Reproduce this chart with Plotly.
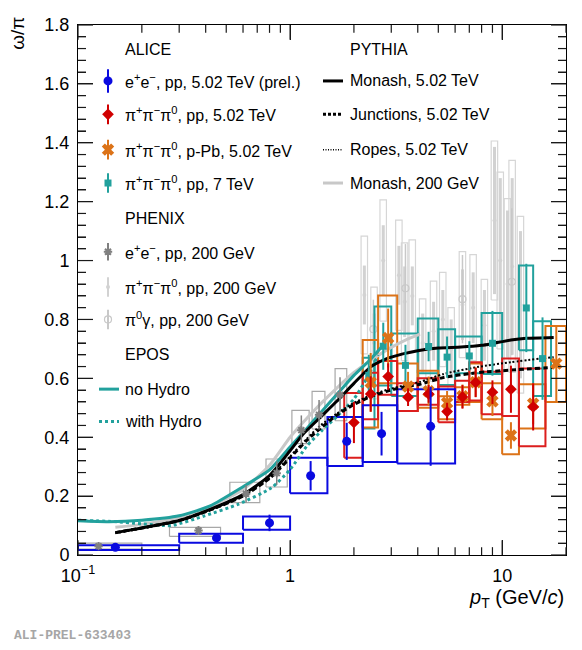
import math
import plotly.graph_objects as go

# ---------------- values ----------------
# ALICE e+e-, pp, 5.02 TeV (prel.)
ee_pt = [0.15, 0.45, 0.8, 1.25, 1.85, 2.7, 4.6]
ee_lo = [0.1, 0.3, 0.6, 1.0, 1.5, 2.2, 3.2]
ee_hi = [0.3, 0.6, 1.0, 1.5, 2.2, 3.2, 6.0]
ee_val = [0.026, 0.058, 0.109, 0.269, 0.386, 0.412, 0.437]
ee_stat = [0.005, 0.012, 0.028, 0.05, 0.063, 0.074, 0.134]
ee_sys_lo = [0.017, 0.042, 0.086, 0.21, 0.302, 0.316, 0.311]
ee_sys_hi = [0.033, 0.072, 0.131, 0.33, 0.469, 0.509, 0.563]

# ALICE pi+pi-pi0, pp, 5.02 TeV
pp5_pt = [2.0, 2.4, 2.9, 3.6, 4.5, 5.5, 6.5, 7.5, 9.0, 11.0, 14.0]
pp5_lo = [1.8, 2.2, 2.6, 3.2, 4.0, 5.0, 6.0, 7.0, 8.0, 10.0, 12.0]
pp5_hi = [2.2, 2.6, 3.2, 4.0, 5.0, 6.0, 7.0, 8.0, 10.0, 12.0, 16.0]
pp5_val = [0.45, 0.547, 0.606, 0.536, 0.547, 0.487, 0.537, 0.586, 0.553, 0.563, 0.503]
pp5_stat = [0.07, 0.06, 0.045, 0.03, 0.03, 0.03, 0.04, 0.05, 0.04, 0.08, 0.08]
pp5_sys_lo = [0.33, 0.461, 0.544, 0.489, 0.51, 0.451, 0.52, 0.525, 0.478, 0.472, 0.369]
pp5_sys_hi = [0.55, 0.619, 0.659, 0.583, 0.60, 0.572, 0.592, 0.655, 0.622, 0.667, 0.633]

# ALICE pi+pi-pi0, p-Pb, 5.02 TeV
ppb_pt = [2.4, 2.9, 3.6, 4.5, 5.5, 6.5, 7.5, 9.0, 11.0, 14.0, 18.0]
ppb_lo = [2.2, 2.6, 3.2, 4.0, 5.0, 6.0, 7.0, 8.0, 10.0, 12.0, 16.0]
ppb_hi = [2.6, 3.2, 4.0, 5.0, 6.0, 7.0, 8.0, 10.0, 12.0, 16.0, 20.0]
ppb_val = [0.586, 0.737, 0.572, 0.556, 0.517, 0.539, 0.587, 0.522, 0.406, 0.514, 0.65]
ppb_stat = [0.1, 0.1, 0.05, 0.05, 0.04, 0.04, 0.05, 0.05, 0.045, 0.07, 0.13]
ppb_sys_lo = [0.433, 0.583, 0.489, 0.50, 0.461, 0.51, 0.52, 0.461, 0.342, 0.43, 0.52]
ppb_sys_hi = [0.73, 0.881, 0.65, 0.626, 0.539, 0.57, 0.65, 0.583, 0.472, 0.58, 0.778]

# ALICE pi+pi-pi0, pp, 7 TeV
pp7_pt = [2.35, 2.75, 3.5, 4.5, 5.5, 7.0, 9.0, 13.0, 15.5]
pp7_lo = [2.2, 2.5, 3.0, 4.0, 5.0, 6.0, 8.0, 12.0, 14.0]
pp7_hi = [2.5, 3.0, 4.0, 5.0, 6.0, 8.0, 10.0, 14.0, 17.0]
pp7_val = [0.61, 0.709, 0.644, 0.708, 0.672, 0.676, 0.719, 0.839, 0.667]
pp7_stat = [0.07, 0.08, 0.07, 0.05, 0.07, 0.05, 0.11, 0.15, 0.14]
pp7_sys_lo = [0.43, 0.576, 0.54, 0.617, 0.577, 0.617, 0.615, 0.695, 0.54]
pp7_sys_hi = [0.67, 0.844, 0.752, 0.803, 0.767, 0.742, 0.822, 0.983, 0.794]

# PHENIX e+e-, pp, 200 GeV
phx_ee_pt = [0.125, 0.37, 0.62, 0.865, 1.13, 1.37, 1.72]
phx_ee_lo = [0.1, 0.27, 0.52, 0.77, 1.02, 1.27, 1.63]
phx_ee_hi = [0.2, 0.47, 0.72, 0.97, 1.23, 1.46, 1.85]
phx_ee_val = [0.03, 0.083, 0.208, 0.278, 0.424, 0.476, 0.544]
phx_ee_stat = [0.008, 0.015, 0.03, 0.04, 0.05, 0.05, 0.06]
phx_ee_sys_lo = [0.02, 0.063, 0.178, 0.231, 0.378, 0.428, 0.456]
phx_ee_sys_hi = [0.04, 0.094, 0.247, 0.326, 0.491, 0.556, 0.633]

# PHENIX pi+pi-pi0, pp, 200 GeV
phx_3pi_pt = [2.24, 2.49, 2.75, 3.26, 3.47, 3.77, 4.22, 4.75, 5.25, 5.75, 6.5, 7.3, 8.25, 9.2, 9.8, 10.6, 11.15, 12.2]
phx_3pi_val = [0.883, 0.72, 1.0, 0.95, 0.86, 0.88, 0.72, 0.76, 0.8, 0.7, 0.85, 0.84, 0.78, 1.136, 1.0, 0.92, 0.98, 0.85]
phx_3pi_stat = [0.1, 0.1, 0.12, 0.1, 0.12, 0.1, 0.1, 0.1, 0.1, 0.1, 0.12, 0.12, 0.12, 0.25, 0.28, 0.25, 0.3, 0.25]
phx_3pi_sys = [0.2, 0.19, 0.206, 0.187, 0.2, 0.19, 0.15, 0.17, 0.16, 0.14, 0.18, 0.18, 0.156, 0.27, 0.3, 0.29, 0.36, 0.3]

# PHENIX pi0 gamma, pp, 200 GeV
phx_pg_pt = [2.47, 3.5, 6.5, 11.1]
phx_pg_val = [0.767, 0.906, 0.869, 0.928]
phx_pg_err = [0.1, 0.15, 0.15, 0.25]

# PYTHIA
monash_pt = [0.15, 0.2, 0.3, 0.42, 0.6, 0.8, 1.0, 1.15, 1.4, 1.66, 2.0, 2.4, 2.86, 3.4, 4.0, 5.0, 6.4, 8.0, 9.1, 11.0, 13.0, 17.5]
monash_val = [0.076, 0.092, 0.117, 0.155, 0.205, 0.27, 0.354, 0.41, 0.47, 0.522, 0.583, 0.639, 0.667, 0.683, 0.694, 0.703, 0.706, 0.712, 0.719, 0.73, 0.736, 0.739]
junc_pt = [0.15, 0.2, 0.3, 0.42, 0.6, 0.8, 1.0, 1.2, 1.39, 1.66, 2.0, 2.4, 2.86, 3.4, 4.1, 5.3, 7.6, 11.0, 17.5]
junc_val = [0.076, 0.092, 0.117, 0.153, 0.2, 0.26, 0.33, 0.39, 0.43, 0.475, 0.511, 0.538, 0.556, 0.57, 0.58, 0.603, 0.619, 0.628, 0.637]
ropes_pt = [0.15, 0.2, 0.3, 0.42, 0.6, 0.8, 1.0, 1.2, 1.39, 1.66, 2.0, 2.4, 2.86, 3.4, 4.1, 5.3, 7.6, 11.0, 17.5]
ropes_val = [0.074, 0.09, 0.115, 0.152, 0.2, 0.262, 0.335, 0.395, 0.44, 0.48, 0.517, 0.542, 0.561, 0.575, 0.588, 0.615, 0.638, 0.655, 0.672]
monash200_pt = [0.15, 0.2, 0.3, 0.42, 0.6, 0.8, 1.0, 1.15, 1.4, 1.66, 2.0, 2.4, 3.0, 3.5, 4.1]
monash200_val = [0.094, 0.104, 0.128, 0.165, 0.222, 0.305, 0.40, 0.45, 0.515, 0.567, 0.62, 0.661, 0.705, 0.73, 0.75]

# EPOS
epos_nh_pt = [0.1, 0.14, 0.2, 0.3, 0.42, 0.6, 0.8, 1.0, 1.2, 1.4, 1.66, 2.0, 2.4, 2.75]
epos_nh_val = [0.116, 0.113, 0.118, 0.133, 0.167, 0.232, 0.289, 0.367, 0.43, 0.485, 0.545, 0.61, 0.665, 0.713]
epos_h_pt = [0.1, 0.143, 0.2, 0.275, 0.395, 0.568, 0.816, 1.0, 1.2, 1.4, 1.66, 2.0, 2.3, 2.6]
epos_h_val = [0.118, 0.114, 0.106, 0.1, 0.133, 0.172, 0.228, 0.29, 0.37, 0.42, 0.47, 0.53, 0.6, 0.68]

# axis ticks
major_x = [0.1, 1, 10]
major_x_text = ["10<sup>−1</sup>", "1", "10"]
minor_x = [0.2, 0.3, 0.4, 0.5, 0.6, 0.7, 0.8, 0.9, 2, 3, 4, 5, 6, 7, 8, 9, 20]
major_y = [0, 0.2, 0.4, 0.6, 0.8, 1.0, 1.2, 1.4, 1.6, 1.8]
minor_y = [round(0.04 * i, 2) for i in range(46) if i % 5]

BLUE = "#0a0ae0"
RED = "#d00000"
ORANGE = "#dc7318"
TEAL = "#22a19d"
GREY = "#808080"
LGREY = "#d6d6d6"
FONT = "Liberation Sans"

X_RANGE = [-1, math.log10(20)]
Y_RANGE = [0, 1.8]
PLOT_W, PLOT_H = 488, 540

# page body has an 8px margin; figure is shrunk so the plot lands where the reference has it
PAD = 8
W, H = 582 - PAD, 650 - PAD


def boxes(lo, hi, ylo, yhi, color, width):
    xs, ys = [], []
    for a, b, c, d in zip(lo, hi, ylo, yhi):
        xs += [a, b, b, a, a, None]
        ys += [c, c, d, d, c, None]
    return go.Scatter(x=xs, y=ys, mode="lines", line=dict(color=color, width=width),
                      hoverinfo="skip", showlegend=False)


def points(x, y, err, color, symbol, size, thick=2, lw=0):
    return go.Scatter(x=x, y=y, mode="markers",
                      marker=dict(color=color, symbol=symbol, size=size, line=dict(color=color, width=lw)),
                      error_y=dict(type="data", array=err, color=color, thickness=thick, width=0),
                      showlegend=False)


def curve(x, y, color, width, dash="solid"):
    return go.Scatter(x=x, y=y, mode="lines",
                      line=dict(color=color, width=width, dash=dash, shape="spline", smoothing=0.6),
                      showlegend=False)


fig = go.Figure()

# PHENIX light grey (pi+pi-pi0 and pi0 gamma)
fig.add_trace(boxes([p * 0.965 for p in phx_3pi_pt], [p * 1.035 for p in phx_3pi_pt],
                    [v - s for v, s in zip(phx_3pi_val, phx_3pi_sys)],
                    [v + s for v, s in zip(phx_3pi_val, phx_3pi_sys)], LGREY, 1.2))
fig.add_trace(points(phx_3pi_pt, phx_3pi_val, phx_3pi_stat, "#d2d2d2", "circle", 4, thick=3))
fig.add_trace(points(phx_pg_pt, phx_pg_val, phx_pg_err, "#c8c8c8", "circle-open", 7, thick=1.5, lw=1.2))

# PHENIX e+e-
fig.add_trace(boxes(phx_ee_lo, phx_ee_hi, phx_ee_sys_lo, phx_ee_sys_hi, "#a8a8a8", 1.2))

# ALICE systematic boxes
fig.add_trace(boxes(pp7_lo, pp7_hi, pp7_sys_lo, pp7_sys_hi, TEAL, 2))
fig.add_trace(boxes(ppb_lo, ppb_hi, ppb_sys_lo, ppb_sys_hi, ORANGE, 2))
fig.add_trace(boxes(pp5_lo, pp5_hi, pp5_sys_lo, pp5_sys_hi, "#dc1e1e", 2))
fig.add_trace(boxes(ee_lo, ee_hi, ee_sys_lo, ee_sys_hi, BLUE, 2))

# models
fig.add_trace(curve(monash200_pt, monash200_val, "#c8c8c8", 3))
fig.add_trace(curve(epos_nh_pt, epos_nh_val, TEAL, 3))
fig.add_trace(curve(epos_h_pt, epos_h_val, TEAL, 3, "3px,3px"))
fig.add_trace(curve(ropes_pt, ropes_val, "black", 2, "2px,2px"))
fig.add_trace(curve(junc_pt, junc_val, "black", 3, "5px,3px"))
fig.add_trace(curve(monash_pt, monash_val, "black", 3))

# data points
fig.add_trace(points(phx_ee_pt, phx_ee_val, phx_ee_stat, GREY, "asterisk-open", 7, thick=1.5, lw=2))
fig.add_trace(points(pp7_pt, pp7_val, pp7_stat, TEAL, "square", 7))
fig.add_trace(points(ppb_pt, ppb_val, ppb_stat, ORANGE, "x", 11))
fig.add_trace(points(pp5_pt, pp5_val, pp5_stat, RED, "diamond", 9))
fig.add_trace(points(ee_pt, ee_val, ee_stat, BLUE, "circle", 9))

x_span = X_RANGE[1] - X_RANGE[0]
y_span = Y_RANGE[1] - Y_RANGE[0]

# ROOT-style inward ticks on all four sides, as shapes above the traces
shapes = []
tick_line = dict(color="#1a1a1a", width=1.2)
for vals, ln in [(major_x, 15), (minor_x, 8)]:
    for v in vals:
        px = (math.log10(v) - X_RANGE[0]) / x_span
        for y0, y1 in [(0, ln / PLOT_H), (1 - ln / PLOT_H, 1)]:
            shapes.append(dict(type="line", xref="paper", yref="paper", x0=px, x1=px, y0=y0, y1=y1,
                               line=tick_line, layer="above"))
for vals, ln in [(major_y, 15), (minor_y, 8)]:
    for v in vals:
        py = (v - Y_RANGE[0]) / y_span
        for x0, x1 in [(0, ln / PLOT_W), (1 - ln / PLOT_W, 1)]:
            shapes.append(dict(type="line", xref="paper", yref="paper", x0=x0, x1=x1, y0=py, y1=py,
                               line=tick_line, layer="above"))


# ---------------- hand-made two-column legend ----------------
# positions given in reference pixels (plot area spans x 78..566, y 15..555)
def fx(px):
    return (px - 78) / PLOT_W


def fy(py):
    return (555 - py) / PLOT_H


def lx(px):
    return 10 ** (X_RANGE[0] + fx(px) * x_span)


def ly(py):
    return Y_RANGE[0] + fy(py) * y_span


legend_marks = [
    (72, BLUE, "circle", 9, 0, 12),
    (106, RED, "diamond", 9, 0, 10),
    (142, ORANGE, "x", 11, 0, 10),
    (176, TEAL, "square", 7, 0, 10),
    (246, GREY, "asterisk-open", 7, 2, 9),
    (282, "#d2d2d2", "circle", 4, 0, 10),
    (315, "#c8c8c8", "circle-open", 7, 1.2, 10),
]
for py, col, sym, size, lw, err in legend_marks:
    fig.add_trace(go.Scatter(x=[lx(108)], y=[ly(py)], mode="markers",
                             marker=dict(color=col, symbol=sym, size=size, line=dict(color=col, width=lw)),
                             error_y=dict(type="data", array=[err / PLOT_H * y_span], color=col,
                                          thickness=2, width=0),
                             showlegend=False, hoverinfo="skip"))

left_text = [
    (40, "ALICE"),
    (72, "e<sup>+</sup>e<sup>−</sup>, pp, 5.02 TeV (prel.)"),
    (106, "π<sup>+</sup>π<sup>−</sup>π<sup>0</sup>, pp, 5.02 TeV"),
    (142, "π<sup>+</sup>π<sup>−</sup>π<sup>0</sup>, p-Pb, 5.02 TeV"),
    (176, "π<sup>+</sup>π<sup>−</sup>π<sup>0</sup>, pp, 7 TeV"),
    (212, "PHENIX"),
    (246, "e<sup>+</sup>e<sup>−</sup>, pp, 200 GeV"),
    (282, "π<sup>+</sup>π<sup>−</sup>π<sup>0</sup>, pp, 200 GeV"),
    (315, "π<sup>0</sup>γ, pp, 200 GeV"),
    (351, "EPOS"),
    (386, "no Hydro"),
    (419, "with Hydro"),
]
right_text = [
    (40, "PYTHIA"),
    (72, "Monash, 5.02 TeV"),
    (106, "Junctions, 5.02 TeV"),
    (142, "Ropes, 5.02 TeV"),
    (176, "Monash, 200 GeV"),
]
annotations = []
for px, rows in [(123, left_text), (348, right_text)]:
    for py, t in rows:
        annotations.append(dict(x=fx(px), y=fy(py), xref="paper", yref="paper", text=t, showarrow=False,
                                xanchor="left", yanchor="middle",
                                font=dict(family=FONT, size=16, color="black")))

line_samples = [
    (99, 119, 386, TEAL, 3, "solid"),
    (99, 119, 419, TEAL, 3, "3px,3px"),
    (323, 343, 72, "black", 3, "solid"),
    (323, 343, 106, "black", 3, "3px,2px"),
    (323, 343, 142, "black", 1.5, "1px,1.5px"),
    (323, 343, 176, "#c8c8c8", 3, "solid"),
]
for x0, x1, py, col, w, d in line_samples:
    shapes.append(dict(type="line", xref="paper", yref="paper", x0=fx(x0), x1=fx(x1), y0=fy(py), y1=fy(py),
                       line=dict(color=col, width=w, dash=d)))

annotations += [
    dict(x=fx(18), y=fy(24), xref="paper", yref="paper", text="ω/π", textangle=-90, showarrow=False,
         xanchor="center", yanchor="middle", font=dict(family=FONT, size=19, color="black")),
    dict(x=1.0, y=fy(599), xref="paper", yref="paper", text="<i>p</i><sub>T</sub> (GeV/<i>c</i>)",
         showarrow=False, xanchor="right", yanchor="middle", font=dict(family=FONT, size=20, color="black")),
    dict(x=fx(12), y=fy(637), xref="paper", yref="paper", text="<b>ALI-PREL-633403</b>", showarrow=False,
         xanchor="left", yanchor="middle", font=dict(family="Liberation Mono", size=13, color="#a6a6a6")),
]

# native inward ticks as well (they sit exactly under the tick shapes)
axis_common = dict(tickfont=dict(size=18), ticks="inside", ticklen=15, tickwidth=1, tickcolor="#1a1a1a",
                   showline=True, linecolor="black", linewidth=1, mirror="allticks",
                   showgrid=False, zeroline=False, ticklabeloverflow="allow")

fig.update_layout(
    width=W, height=H,
    margin=dict(l=78 - PAD, r=16, t=15 - PAD, b=95),
    paper_bgcolor="white", plot_bgcolor="white",
    showlegend=False,
    font=dict(family=FONT, color="black"),
    annotations=annotations,
    shapes=shapes,
    xaxis=dict(type="log", range=X_RANGE, tickmode="array", tickvals=major_x, ticktext=major_x_text,
               ticklabelstandoff=4, **axis_common),
    yaxis=dict(range=Y_RANGE, tickmode="array", tickvals=major_y,
               ticktext=[f"{v:g}" for v in major_y], ticklabelstandoff=4,
               minor=dict(ticks="inside", ticklen=8, dtick=0.04, tickcolor="#1a1a1a", showgrid=False),
               **axis_common),
)

fig.write_html("out.html")
